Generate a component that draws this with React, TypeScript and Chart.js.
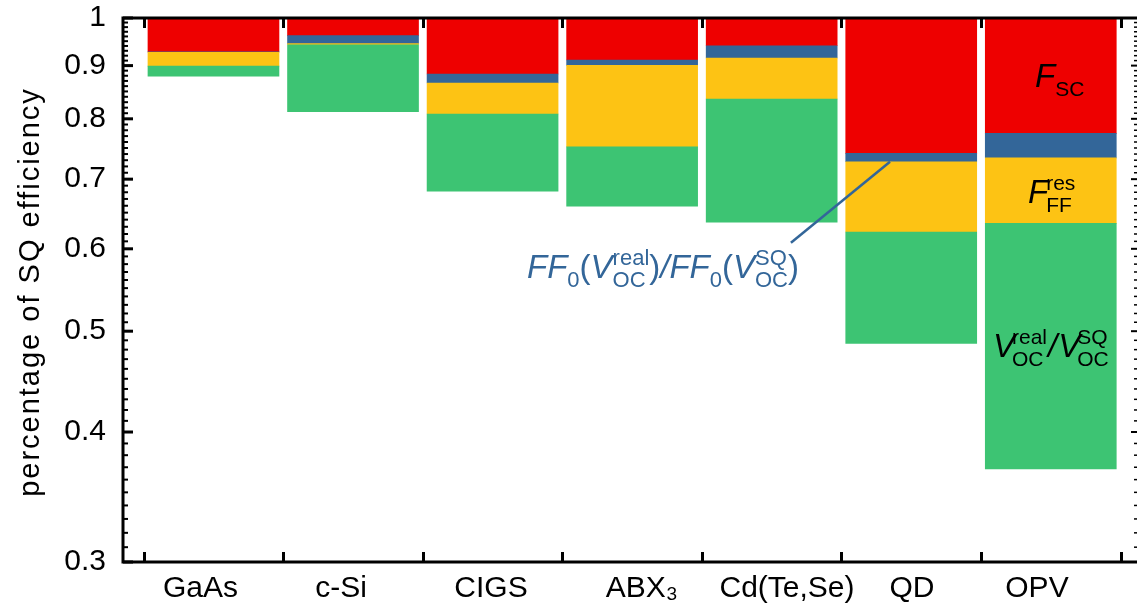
import React, { useEffect, useRef } from 'react';
import { Chart, registerables } from 'chart.js';

Chart.register(...registerables);

// ---------------- data ----------------
const categories = ['GaAs', 'c-Si', 'CIGS', 'ABX₃', 'Cd(Te,Se)', 'QD', 'OPV'];
// fraction of the SQ efficiency actually reached (bottom of the green bars)
const sqFraction = [0.879, 0.8127, 0.6817, 0.6592, 0.6365, 0.4867, 0.3686];
// V_OC^real / V_OC^SQ level (top of green)
const vocTop = [0.899, 0.9426, 0.8086, 0.7519, 0.8358, 0.6227, 0.6348];
// F_FF^res level (top of yellow)
const ffResTop = [0.927, 0.9447, 0.866, 0.9006, 0.9153, 0.7275, 0.7338];
// FF0 ratio level (top of blue)
const ff0Top = [0.928, 0.9616, 0.8834, 0.9113, 0.9405, 0.741, 0.7746];
// F_SC level (top of red = SQ limit)
const sqLimit = [1, 1, 1, 1, 1, 1, 1];

const yTickValues = [0.3, 0.4, 0.5, 0.6, 0.7, 0.8, 0.9, 1];
const yTickLabels = ['0.3', '0.4', '0.5', '0.6', '0.7', '0.8', '0.9', '1'];
const yTitle = 'percentage of SQ efficiency';

// where the category names sit along the x axis (in category units)
const labelAnchors = [0.407, 1.414, 2.489, 3.57, 4.61, 5.505, 6.401];

const GREEN = '#3DC473';
const YELLOW = '#FDC314';
const BLUE = '#336699';
const RED = '#EE0000';
const FAMILY = '"Liberation Sans", Arial, Helvetica, sans-serif';

const fnt = (size: number, italic = false) => `${italic ? 'italic ' : ''}${size}px ${FAMILY}`;

type Run = { t?: string; it?: boolean; sup?: string; sub?: string; kern?: number };

function drawRich(
  ctx: CanvasRenderingContext2D,
  x: number,
  y: number,
  runs: Run[],
  size: number,
  sSize: number,
  color: string
) {
  ctx.fillStyle = color;
  ctx.textAlign = 'left';
  ctx.textBaseline = 'alphabetic';
  let cx = x;
  for (const r of runs) {
    if (r.t) {
      ctx.font = fnt(size, r.it);
      ctx.fillText(r.t, cx, y);
      cx += ctx.measureText(r.t).width;
    } else {
      ctx.font = fnt(sSize);
      let w = 0;
      if (r.sup) {
        ctx.fillText(r.sup, cx, y - 13);
        w = Math.max(w, ctx.measureText(r.sup).width);
      }
      if (r.sub) {
        ctx.fillText(r.sub, cx, y + 9);
        w = Math.max(w, ctx.measureText(r.sub).width);
      }
      cx += w;
    }
    if (r.kern) cx += r.kern;
  }
}

const framePlugin = {
  id: 'frameAndNotes',
  afterDatasetsDraw(chart: any) {
    const { ctx, chartArea: a, scales } = chart;
    const x = scales.x;
    const y = scales.y;
    ctx.save();
    ctx.strokeStyle = '#000';
    ctx.lineCap = 'butt';

    // frame lines (top, left, bottom)
    ctx.lineWidth = 3;
    ctx.beginPath();
    ctx.moveTo(a.left - 1.5, a.top);
    ctx.lineTo(a.right + 1, a.top);
    ctx.moveTo(a.left, a.top - 1.5);
    ctx.lineTo(a.left, a.bottom + 1.5);
    ctx.moveTo(a.left - 1.5, a.bottom);
    ctx.lineTo(a.right + 1, a.bottom);
    ctx.stroke();

    // category boundary ticks (inward, top and bottom)
    ctx.lineWidth = 3;
    ctx.beginPath();
    for (let i = 0; i <= categories.length; i++) {
      const px = Math.round(x.getPixelForValue(i)) + 0.5;
      ctx.moveTo(px, a.top);
      ctx.lineTo(px, a.top + 10);
      ctx.moveTo(px, a.bottom);
      ctx.lineTo(px, a.bottom - 10);
    }
    ctx.stroke();

    // y major ticks
    for (const v of yTickValues) {
      const py = y.getPixelForValue(v);
      ctx.lineWidth = 3;
      ctx.beginPath();
      ctx.moveTo(a.left, py);
      ctx.lineTo(a.left + 10, py);
      ctx.stroke();
      ctx.lineWidth = 2;
      ctx.beginPath();
      ctx.moveTo(a.right - 5, py);
      ctx.lineTo(a.right + 1, py);
      ctx.stroke();
    }
    // y minor ticks every 0.01
    for (let k = 31; k < 100; k++) {
      if (k % 10 === 0) continue;
      const py = y.getPixelForValue(k / 100);
      ctx.lineWidth = 2;
      ctx.beginPath();
      ctx.moveTo(a.left, py);
      ctx.lineTo(a.left + 5, py);
      ctx.stroke();
      ctx.lineWidth = 1.5;
      ctx.beginPath();
      ctx.moveTo(a.right - 2, py);
      ctx.lineTo(a.right + 1, py);
      ctx.stroke();
    }

    // y axis title
    ctx.save();
    ctx.translate(31, (a.top + a.bottom) / 2 + 2);
    ctx.rotate(-Math.PI / 2);
    ctx.font = fnt(29);
    (ctx as any).letterSpacing = '2px';
    ctx.fillStyle = '#000';
    ctx.textAlign = 'center';
    ctx.textBaseline = 'middle';
    ctx.fillText(yTitle, 0, 0);
    ctx.restore();

    // annotations inside OPV bar
    drawRich(ctx, x.getPixelForValue(6.387), y.getPixelForValue(0.8584),
      [{ t: 'F', it: true }, { sub: 'SC' }], 33, 21, '#000');
    drawRich(ctx, x.getPixelForValue(6.337), y.getPixelForValue(0.6641),
      [{ t: 'F', it: true, kern: -2 }, { sup: 'res', sub: 'FF' }], 33, 21, '#000');
    drawRich(ctx, x.getPixelForValue(6.086), y.getPixelForValue(0.4723),
      [
        { t: 'V', it: true, kern: -3 },
        { sup: 'real', sub: 'OC', kern: 1 },
        { t: '/', it: true, kern: 1 },
        { t: 'V', it: true, kern: -3 },
        { sup: 'SQ', sub: 'OC' },
      ], 33, 21, '#000');

    // FF0 annotation with pointer line
    drawRich(ctx, x.getPixelForValue(2.747), y.getPixelForValue(0.5624),
      [
        { t: 'FF', it: true },
        { sub: '0' },
        { t: '(' },
        { t: 'V', it: true },
        { sup: 'real', sub: 'OC' },
        { t: ')' },
        { t: '/', it: true },
        { t: 'FF', it: true },
        { sub: '0' },
        { t: '(' },
        { t: 'V', it: true },
        { sup: 'SQ', sub: 'OC' },
        { t: ')' },
      ], 33, 22, BLUE);
    ctx.strokeStyle = BLUE;
    ctx.lineWidth = 2.5;
    ctx.beginPath();
    ctx.moveTo(x.getPixelForValue(4.638), y.getPixelForValue(0.6081));
    ctx.lineTo(x.getPixelForValue(5.348), y.getPixelForValue(ffResTop[5]));
    ctx.stroke();

    ctx.restore();
  },
};

const seg = (lo: number[], hi: number[]) =>
  categories.map((_, i) => ({ x: i + 0.5, y: [lo[i], hi[i]] }));

export default function App() {
  const ref = useRef<HTMLCanvasElement>(null);

  useEffect(() => {
    if (!ref.current) return;
    const barOpts = { barThickness: 131, borderWidth: 0, grouped: false };
    const chart = new Chart(ref.current, {
      type: 'bar',
      data: {
        datasets: [
          { label: 'Voc', data: seg(sqFraction, vocTop) as any, backgroundColor: GREEN, ...barOpts },
          { label: 'FFres', data: seg(vocTop, ffResTop) as any, backgroundColor: YELLOW, ...barOpts },
          { label: 'FF0', data: seg(ffResTop, ff0Top) as any, backgroundColor: BLUE, ...barOpts },
          { label: 'Fsc', data: seg(ff0Top, sqLimit) as any, backgroundColor: RED, ...barOpts },
        ],
      },
      options: {
        animation: false,
        responsive: false,
        devicePixelRatio: 1,
        layout: { padding: { top: 18, right: 2, left: 0, bottom: 0 } },
        plugins: { legend: { display: false }, tooltip: { enabled: false } },
        scales: {
          x: {
            type: 'linear',
            offset: false,
            min: -0.1483,
            max: 7.1107,
            afterBuildTicks: (s: any) => {
              s.ticks = labelAnchors.map((v) => ({ value: v }));
            },
            afterFit: (s: any) => {
              s.height = 48;
              s.paddingLeft = 0;
              s.paddingRight = 0;
            },
            grid: { display: false },
            border: { display: false },
            ticks: {
              autoSkip: false,
              maxRotation: 0,
              minRotation: 0,
              padding: 1,
              color: '#000',
              font: { size: 30, family: FAMILY },
              callback: (_v: any, i: number) => categories[i] ?? '',
            },
          },
          y: {
            type: 'logarithmic',
            min: 0.3,
            max: 1,
            afterBuildTicks: (s: any) => {
              s.ticks = yTickValues.map((v) => ({ value: v }));
            },
            afterFit: (s: any) => {
              s.width = 123;
              s.paddingTop = 0;
              s.paddingBottom = 0;
            },
            grid: { display: false },
            border: { display: false },
            ticks: {
              padding: 9,
              color: '#000',
              font: { size: 30, family: FAMILY },
              callback: (_v: any, i: number) => yTickLabels[i],
            },
          },
        },
      },
      plugins: [framePlugin],
    } as any);
    return () => chart.destroy();
  }, []);

  return (
    <div style={{ position: 'absolute', left: 0, top: 0, width: 1138, height: 610 }}>
      <canvas ref={ref} width={1138} height={610} />
    </div>
  );
}
